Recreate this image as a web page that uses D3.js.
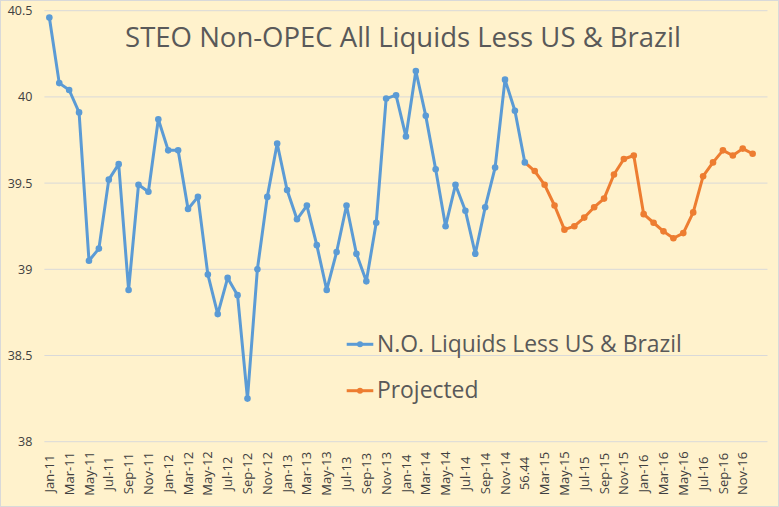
<!DOCTYPE html>
<html><head><meta charset="utf-8">
<script src="https://cdn.jsdelivr.net/npm/d3@7"></script>
<style>html,body{margin:0;padding:0;background:#fff;}svg{display:block;}</style>
</head><body>
<script>
const months = ["Jan-11","Feb-11","Mar-11","Apr-11","May-11","Jun-11","Jul-11","Aug-11","Sep-11","Oct-11","Nov-11","Dec-11",
"Jan-12","Feb-12","Mar-12","Apr-12","May-12","Jun-12","Jul-12","Aug-12","Sep-12","Oct-12","Nov-12","Dec-12",
"Jan-13","Feb-13","Mar-13","Apr-13","May-13","Jun-13","Jul-13","Aug-13","Sep-13","Oct-13","Nov-13","Dec-13",
"Jan-14","Feb-14","Mar-14","Apr-14","May-14","Jun-14","Jul-14","Aug-14","Sep-14","Oct-14","Nov-14","Dec-14",
"56.44","Feb-15","Mar-15","Apr-15","May-15","Jun-15","Jul-15","Aug-15","Sep-15","Oct-15","Nov-15","Dec-15",
"Jan-16","Feb-16","Mar-16","Apr-16","May-16","Jun-16","Jul-16","Aug-16","Sep-16","Oct-16","Nov-16","Dec-16"];
const actual = [40.46,40.08,40.04,39.91,39.05,39.12,39.52,39.61,38.88,39.49,39.45,39.87,
39.69,39.69,39.35,39.42,38.97,38.74,38.95,38.85,38.25,39.00,39.42,39.73,
39.46,39.29,39.37,39.14,38.88,39.10,39.37,39.09,38.93,39.27,39.99,40.01,
39.77,40.15,39.89,39.58,39.25,39.49,39.34,39.09,39.36,39.59,40.10,39.92,
39.62];
const projected = [39.57,39.49,39.37,39.23,39.25,39.30,39.36,39.41,39.55,39.64,39.66,
39.32,39.27,39.22,39.18,39.21,39.33,39.54,39.62,39.69,39.66,39.70,39.67];
const yTicks = [38,38.5,39,39.5,40,40.5];
const seriesNames = ["N.O. Liquids Less US & Brazil","Projected"];
const title = "STEO Non-OPEC All Liquids Less US & Brazil";

const W=779,H=507;
const blue="#5B9BD5", orange="#ED7D31", txt="#595959", grid="#D9D9D9";
const svg=d3.select("body").append("svg").attr("width",W).attr("height",H);
svg.append("rect").attr("x",0.5).attr("y",0.5).attr("width",W-1).attr("height",H-1)
  .attr("fill","#FFF2CC").attr("stroke","#D9D9D9");

const plotL=44.4, plotR=767.5, plotT=10.7, plotB=441.7;
const idx = d3.range(months.length+1);
const x=d3.scaleBand().domain(idx).range([plotL,plotR]);
const cx=i=>x(i)+x.bandwidth()/2;
const y=d3.scaleLinear().domain([38,40.5]).range([plotB,plotT]);

// gridlines
svg.append("g").selectAll("line").data(yTicks).join("line")
  .attr("x1",plotL).attr("x2",plotR).attr("y1",d=>y(d)).attr("y2",d=>y(d))
  .attr("stroke",grid).attr("stroke-width",1);

// y axis labels
const yAxis=d3.axisLeft(y).tickValues(yTicks).tickSize(0).tickPadding(0).tickFormat(d=>d3.format("")(d));
const ya=svg.append("g").attr("transform",`translate(${plotL-12},0)`).call(yAxis);
ya.select(".domain").remove();
ya.selectAll("text").attr("fill","#404040").style("font-family","'Open Sans',sans-serif").style("font-size","12.5px");

// x labels
svg.append("g").selectAll("text").data(idx.filter(i=>i<months.length && i%2===0)).join("text")
  .attr("transform",i=>`translate(${cx(i)+4.6},473.5) rotate(-90)`)
  .attr("text-anchor","middle").attr("fill","#404040")
  .style("font-family","'Open Sans',sans-serif").style("font-size","13px")
  .text(i=>months[i]);

const line=d3.line().x(d=>cx(d.i)).y(d=>y(d.v));
const aData=actual.map((v,i)=>({i,v}));
const pData=projected.map((v,k)=>({i:actual.length+k,v}));
const pLine=[aData[aData.length-1]].concat(pData);

svg.append("path").attr("d",line(pLine)).attr("fill","none").attr("stroke",orange).attr("stroke-width",3).attr("stroke-linejoin","round");
svg.append("path").attr("d",line(aData)).attr("fill","none").attr("stroke",blue).attr("stroke-width",3).attr("stroke-linejoin","round");
svg.append("g").selectAll("circle").data(aData).join("circle").attr("cx",d=>cx(d.i)).attr("cy",d=>y(d.v)).attr("r",3.3).attr("fill",blue);
svg.append("g").selectAll("circle").data(pData).join("circle").attr("cx",d=>cx(d.i)).attr("cy",d=>y(d.v)).attr("r",3.3).attr("fill",orange);

// title
function fit(sel,target){
  const w=sel.node().getComputedTextLength();
  const fs=parseFloat(sel.style("font-size"));
  sel.style("font-size",(fs*target/w)+"px");
}
const t=svg.append("text").attr("x",403).attr("y",47).attr("text-anchor","middle").attr("fill",txt)
  .style("font-family","'Open Sans',sans-serif").style("font-size","24px").text(title);
fit(t,556);

// legend
const leg=[{n:seriesNames[0],c:blue,ly:344.3,ty:352},{n:seriesNames[1],c:orange,ly:390.7,ty:397.5}];
let legFs=null;
leg.forEach((l,k)=>{
  svg.append("line").attr("x1",346.7).attr("x2",373.3).attr("y1",l.ly).attr("y2",l.ly).attr("stroke",l.c).attr("stroke-width",3);
  svg.append("circle").attr("cx",360).attr("cy",l.ly).attr("r",3).attr("fill",l.c);
  const tt=svg.append("text").attr("x",377).attr("y",l.ty).attr("fill",txt)
    .style("font-family","'Open Sans',sans-serif").style("font-size","21px").text(l.n);
  if(k===0){ fit(tt,305); legFs=tt.style("font-size"); }
  else tt.style("font-size",legFs);
});
</script>
</body></html>
